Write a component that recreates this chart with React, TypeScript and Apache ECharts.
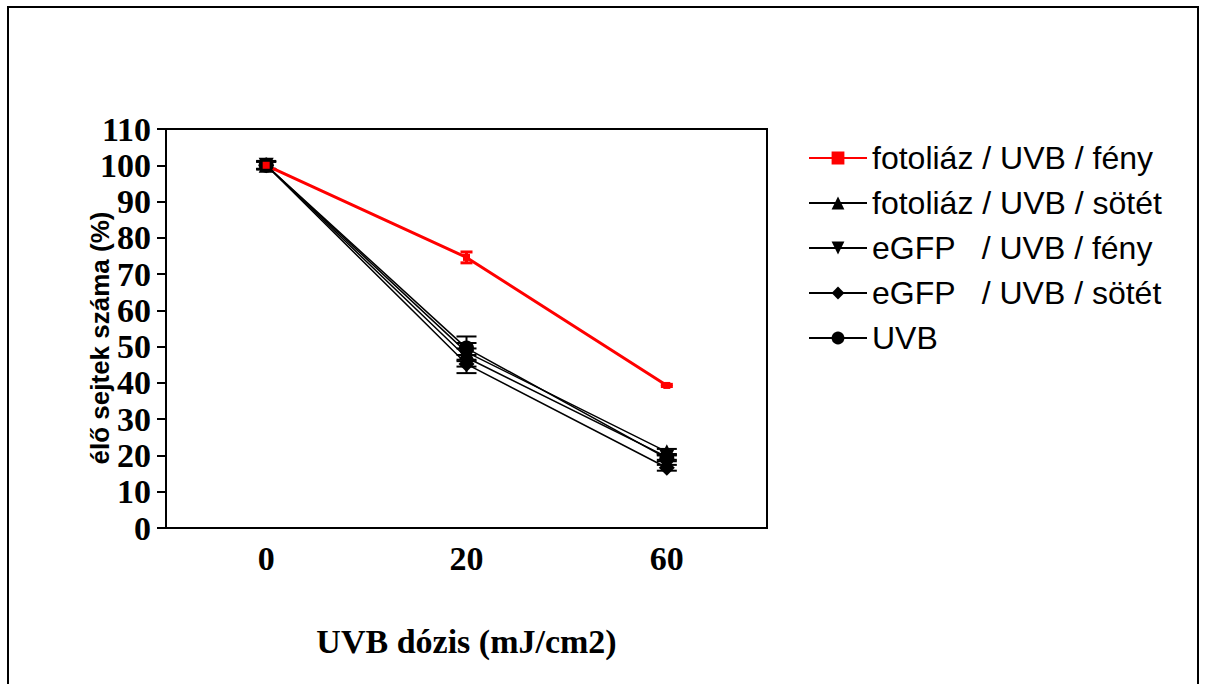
import React, { useEffect, useRef } from "react";
import * as echarts from "echarts";

const categories = ["0", "20", "60"];
const seriesNames = [
  "fotoliáz / UVB / fény",
  "fotoliáz / UVB / sötét",
  "eGFP   / UVB / fény",
  "eGFP   / UVB / sötét",
  "UVB",
];
const fotoliazFeny = [100, 74.6, 39.3];
const fotoliazFenyErr = [0.8, 1.5, 0.3];
const fotoliazSotet = [100, 48.5, 21];
const fotoliazSotetErr = [1, 2.5, 0.8];
const egfpFeny = [100, 47, 19.6];
const egfpFenyErr = [1, 2.5, 0.8];
const egfpSotet = [100, 45.2, 16.6];
const egfpSotetErr = [1, 2.5, 0.8];
const uvb = [100, 49.6, 19.2];
const uvbErr = [1.2, 3.2, 0.8];
const yTicks = { min: 0, max: 110, interval: 10 };
const yTitle = "élő sejtek száma (%)";
const xTitle = "UVB dózis (mJ/cm2)";

const SERIF = "'Liberation Serif', 'Times New Roman', serif";
const SANS = "'Liberation Sans', Arial, sans-serif";

function errorSeries(values: number[], errs: number[], color: string, cap: number, width: number) {
  const data = values.map((v, i) => [i, v - errs[i], v + errs[i]]);
  return {
    type: "custom",
    silent: true,
    z: 1,
    renderItem: (params: any, api: any) => {
      const x = api.value(0);
      const lo = api.coord([x, api.value(1)]);
      const hi = api.coord([x, api.value(2)]);
      const st = { stroke: color, lineWidth: width };
      return {
        type: "group",
        children: [
          { type: "line", shape: { x1: lo[0], y1: lo[1], x2: hi[0], y2: hi[1] }, style: st },
          { type: "line", shape: { x1: lo[0] - cap / 2, y1: lo[1], x2: lo[0] + cap / 2, y2: lo[1] }, style: st },
          { type: "line", shape: { x1: hi[0] - cap / 2, y1: hi[1], x2: hi[0] + cap / 2, y2: hi[1] }, style: st },
        ],
      };
    },
    data,
  };
}

function lineSeries(name: string, values: number[], symbol: string, size: number, color: string, width: number) {
  return {
    name,
    type: "line",
    data: values,
    symbol,
    symbolSize: size,
    z: 3,
    lineStyle: { color, width },
    itemStyle: { color, borderWidth: 0 },
  };
}

export default function App() {
  const ref = useRef<HTMLDivElement>(null);
  useEffect(() => {
    if (!ref.current) return;
    const chart = echarts.init(ref.current, null, { renderer: "svg" });
    chart.setOption({
      animation: false,
      backgroundColor: "#ffffff",
      graphic: [
        {
          type: "rect",
          shape: { x: 8, y: 7, width: 1190, height: 720 },
          style: { fill: "none", stroke: "#000", lineWidth: 2 },
          silent: true,
        },
        {
          type: "text",
          x: 100,
          y: 338,
          rotation: Math.PI / 2,
          style: {
            text: yTitle,
            fontFamily: SANS,
            fontWeight: "bold",
            fontSize: 26,
            fill: "#000",
            align: "center",
            verticalAlign: "middle",
          },
          silent: true,
        },
      ],
      grid: {
        left: 166,
        top: 129,
        width: 601,
        height: 399,
        show: true,
        borderColor: "#000",
        borderWidth: 2,
        backgroundColor: "transparent",
      },
      legend: {
        orient: "vertical",
        left: 803,
        top: 137,
        itemWidth: 58,
        itemHeight: 16,
        itemGap: 13,
        data: seriesNames,
        textStyle: { fontFamily: SANS, fontSize: 32, color: "#000", padding: [0, 0, 0, 0] },
        selectedMode: false,
      },
      xAxis: {
        type: "category",
        data: categories,
        boundaryGap: true,
        axisLine: { lineStyle: { color: "#000", width: 2 } },
        axisTick: { alignWithLabel: true, length: 10, lineStyle: { color: "#000", width: 2 } },
        axisLabel: { fontFamily: SERIF, fontWeight: "bold", fontSize: 34, color: "#000", margin: 13 },
        name: xTitle,
        nameLocation: "middle",
        nameGap: 96,
        nameTextStyle: { fontFamily: SERIF, fontWeight: "bold", fontSize: 34, color: "#000" },
        splitLine: { show: false },
      },
      yAxis: {
        type: "value",
        min: yTicks.min,
        max: yTicks.max,
        interval: yTicks.interval,
        axisLine: { show: true, lineStyle: { color: "#000", width: 2 } },
        axisTick: { show: true, length: 9, lineStyle: { color: "#000", width: 2 } },
        axisLabel: { fontFamily: SERIF, fontWeight: "bold", fontSize: 34, color: "#000", margin: 15 },
        splitLine: { show: false },
      },
      series: [
        errorSeries(fotoliazSotet, fotoliazSotetErr, "#000", 20, 2),
        errorSeries(egfpFeny, egfpFenyErr, "#000", 20, 2),
        errorSeries(egfpSotet, egfpSotetErr, "#000", 20, 2),
        errorSeries(uvb, uvbErr, "#000", 20, 2),
        errorSeries(fotoliazFeny, fotoliazFenyErr, "#ff0000", 12, 3),
        lineSeries(seriesNames[1], fotoliazSotet, "triangle", 15, "#000", 1.5),
        lineSeries(seriesNames[2], egfpFeny, "path://M0,0 L10,0 L5,10 Z", 15, "#000", 1.5),
        lineSeries(seriesNames[3], egfpSotet, "diamond", 16, "#000", 1.5),
        lineSeries(seriesNames[4], uvb, "circle", 15, "#000", 1.5),
        lineSeries(seriesNames[0], fotoliazFeny, "rect", 7, "#ff0000", 3),
      ],
    });
    return () => chart.dispose();
  }, []);
  return (
    <div
      ref={ref}
      style={{ position: "absolute", left: 0, top: 0, width: 1208, height: 684 }}
    />
  );
}
